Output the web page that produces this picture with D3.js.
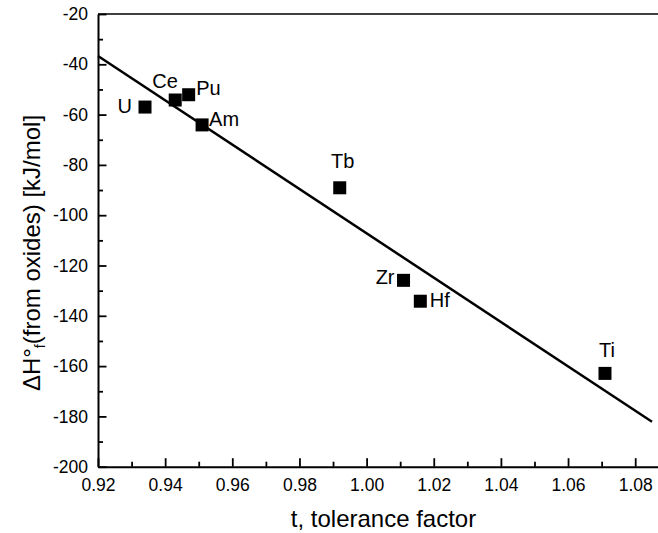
<!DOCTYPE html>
<html>
<head>
<meta charset="utf-8">
<script src="https://cdn.jsdelivr.net/npm/d3@7"></script>
<style>
  html, body { margin: 0; padding: 0; background: #fff; overflow: hidden; }
  svg { display: block; }
  text { font-family: "Liberation Sans", Arial, sans-serif; fill: #000; }
</style>
</head>
<body>
<svg id="chart" width="658" height="533"></svg>
<script>
// ---- data ----
const elements  = ["U", "Ce", "Pu", "Am", "Tb", "Zr", "Hf", "Ti"];
const tolerance = [0.934, 0.943, 0.947, 0.951, 0.992, 1.011, 1.016, 1.071];
const enthalpy  = [-57.0, -54.2, -52.1, -64.1, -89.1, -125.9, -134.2, -162.9];
const fitT = [0.92, 1.085];
const fitH = [-36.7, -182.1];
const xTicks = [0.92, 0.94, 0.96, 0.98, 1.00, 1.02, 1.04, 1.06, 1.08];
const xMinor = [0.93, 0.95, 0.97, 0.99, 1.01, 1.03, 1.05, 1.07, 1.09];
const yTicks = [-200, -180, -160, -140, -120, -100, -80, -60, -40, -20];
const yMinor = [-190, -170, -150, -130, -110, -90, -70, -50, -30];

// ---- label placement (styling) ----
const labelPlace = {
  U:  {anchor: "end",    dx: -13,  dy: 6},
  Ce: {anchor: "start",  dx: -23,  dy: -12},
  Pu: {anchor: "start",  dx: 7.5,  dy: 0.5},
  Am: {anchor: "start",  dx: 7,    dy: 1.5},
  Tb: {anchor: "middle", dx: 3,    dy: -19.5},
  Zr: {anchor: "end",    dx: -9,   dy: 3.7},
  Hf: {anchor: "start",  dx: 9.5,  dy: 6},
  Ti: {anchor: "middle", dx: 2,    dy: -16}
};

(function () {
const svg = d3.select("#chart");
const mLeft = 98, mTop = 14, mBottom = 466.7;
const pxPerUnitX = 67.15 / 0.02;

const x = d3.scaleLinear().domain([0.92, 1.09]).range([mLeft, mLeft + 0.17 * pxPerUnitX]);
const y = d3.scaleLinear().domain([-200, -20]).range([mBottom, mTop]);

// top frame line
svg.append("line")
  .attr("x1", x(0.92)).attr("x2", x(1.09))
  .attr("y1", y(-20)).attr("y2", y(-20))
  .attr("stroke", "#000").attr("stroke-width", 1.5);

// x axis
const gx = svg.append("g").attr("transform", `translate(0,${mBottom})`);
gx.call(d3.axisBottom(x).tickValues(xTicks).tickFormat(d => d.toFixed(2))
  .tickSizeInner(-8.5).tickSizeOuter(0).tickPadding(12));
const gxm = svg.append("g").attr("transform", `translate(0,${mBottom})`);
gxm.call(d3.axisBottom(x).tickValues(xMinor).tickFormat("")
  .tickSizeInner(-5).tickSizeOuter(0));
gxm.select(".domain").remove();

// y axis
const gy = svg.append("g").attr("transform", `translate(${mLeft},0)`);
gy.call(d3.axisLeft(y).tickValues(yTicks).tickFormat(d => String(d))
  .tickSizeInner(-8.5).tickSizeOuter(0).tickPadding(10));
const gym = svg.append("g").attr("transform", `translate(${mLeft},0)`);
gym.call(d3.axisLeft(y).tickValues(yMinor).tickFormat("")
  .tickSizeInner(-5).tickSizeOuter(0));
gym.select(".domain").remove();

svg.selectAll(".domain").attr("stroke", "#000").attr("stroke-width", 2);
svg.selectAll(".tick line").attr("stroke", "#000").attr("stroke-width", 1.8);
svg.selectAll(".tick text")
  .attr("font-family", "'Liberation Sans', Arial, sans-serif")
  .attr("font-size", 17.5).attr("fill", "#000");

// fit line
const line = d3.line().x(d => x(d[0])).y(d => y(d[1]));
svg.append("path")
  .datum(fitT.map((t, i) => [t, fitH[i]]))
  .attr("d", line)
  .attr("fill", "none").attr("stroke", "#000").attr("stroke-width", 2.5);

// points
const pts = elements.map((e, i) => ({e, t: tolerance[i], h: enthalpy[i]}));
const sz = 13;
svg.append("g").selectAll("rect").data(pts).join("rect")
  .attr("x", d => x(d.t) - sz / 2).attr("y", d => y(d.h) - sz / 2)
  .attr("width", sz).attr("height", sz).attr("fill", "#000");

// labels
svg.append("g").selectAll("text").data(pts).join("text")
  .attr("x", d => x(d.t) + labelPlace[d.e].dx)
  .attr("y", d => y(d.h) + labelPlace[d.e].dy)
  .attr("text-anchor", d => labelPlace[d.e].anchor)
  .attr("font-size", 20)
  .text(d => d.e);

// axis titles
svg.append("text")
  .attr("x", 383.5).attr("y", 526.7)
  .attr("text-anchor", "middle").attr("font-size", 24)
  .text("t, tolerance factor");

const yt = svg.append("text")
  .attr("transform", "translate(40,253) rotate(-90)")
  .attr("text-anchor", "middle").attr("font-size", 24);
yt.append("tspan").text("ΔH°");
yt.append("tspan").attr("font-size", 14).attr("dy", 5).text("f");
yt.append("tspan").attr("dy", -5).text("(from oxides) [kJ/mol]");
})();
</script>
</body>
</html>
